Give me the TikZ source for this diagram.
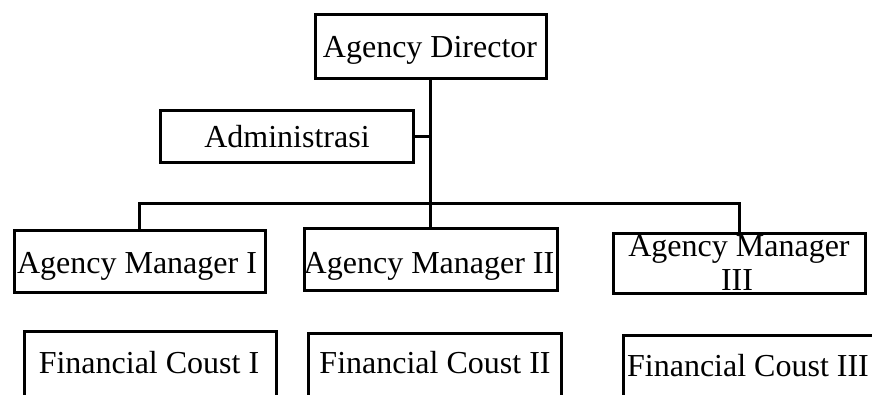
\documentclass[tikz,border=0pt]{standalone}
\usepackage{fontspec}
\setmainfont{Liberation Serif}
\begin{document}
\begin{tikzpicture}[x=1pt,y=-1pt,
  box/.style={draw, line width=3pt, inner sep=0pt, rectangle},
  lbl/.style={font=\fontsize{32}{36}\selectfont, anchor=base, inner sep=0pt},
  conn/.style={line width=3pt}]
\useasboundingbox (0,0) rectangle (872,394);
\fill[white] (0,0) rectangle (872,394);
\clip (0,0) rectangle (872,394);
% boxes
\node[box, minimum width=231pt, minimum height=64pt] (dir) at (430.5,46) {};
\node[box, minimum width=253pt, minimum height=52pt] (adm) at (286.5,136) {};
\node[box, minimum width=251pt, minimum height=62pt] (am1) at (139.5,261) {};
\node[box, minimum width=253pt, minimum height=62pt] (am2) at (430.5,259) {};
\node[box, minimum width=252pt, minimum height=60pt] (am3) at (739,263.5) {};
\node[box, minimum width=252pt, minimum height=90pt] (fc1) at (150,376) {};
\node[box, minimum width=253pt, minimum height=90pt] (fc2) at (434.5,378) {};
\node[box, minimum width=251pt, minimum height=90pt] (fc3) at (748.5,380) {};
% texts
\node[lbl] (tdir) at (430,57) {Agency Director};
\node[lbl] (tadm) at (287,147) {Administrasi};
\node[lbl] (tam1) at (137,273) {Agency Manager I};
\node[lbl] (tam2) at (429,273) {Agency Manager II};
\node[lbl] (tam3a) at (739,256) {Agency Manager};
\node[lbl] (tam3b) at (737,290) {III};
\node[lbl] (tfc1) at (149,373) {Financial Coust I};
\node[lbl] (tfc2) at (435,373) {Financial Coust II};
\node[lbl] (tfc3) at (748,376) {Financial Coust III};
% connectors
\coordinate (bus) at (430.5,203);
\draw[conn] (dir.south) -- (am2.north);
\draw[conn] (am1.north) |- (bus) -| (am3.north);
\draw[conn] (adm.east) -- (adm.east -| dir.south);
\end{tikzpicture}
\end{document}
